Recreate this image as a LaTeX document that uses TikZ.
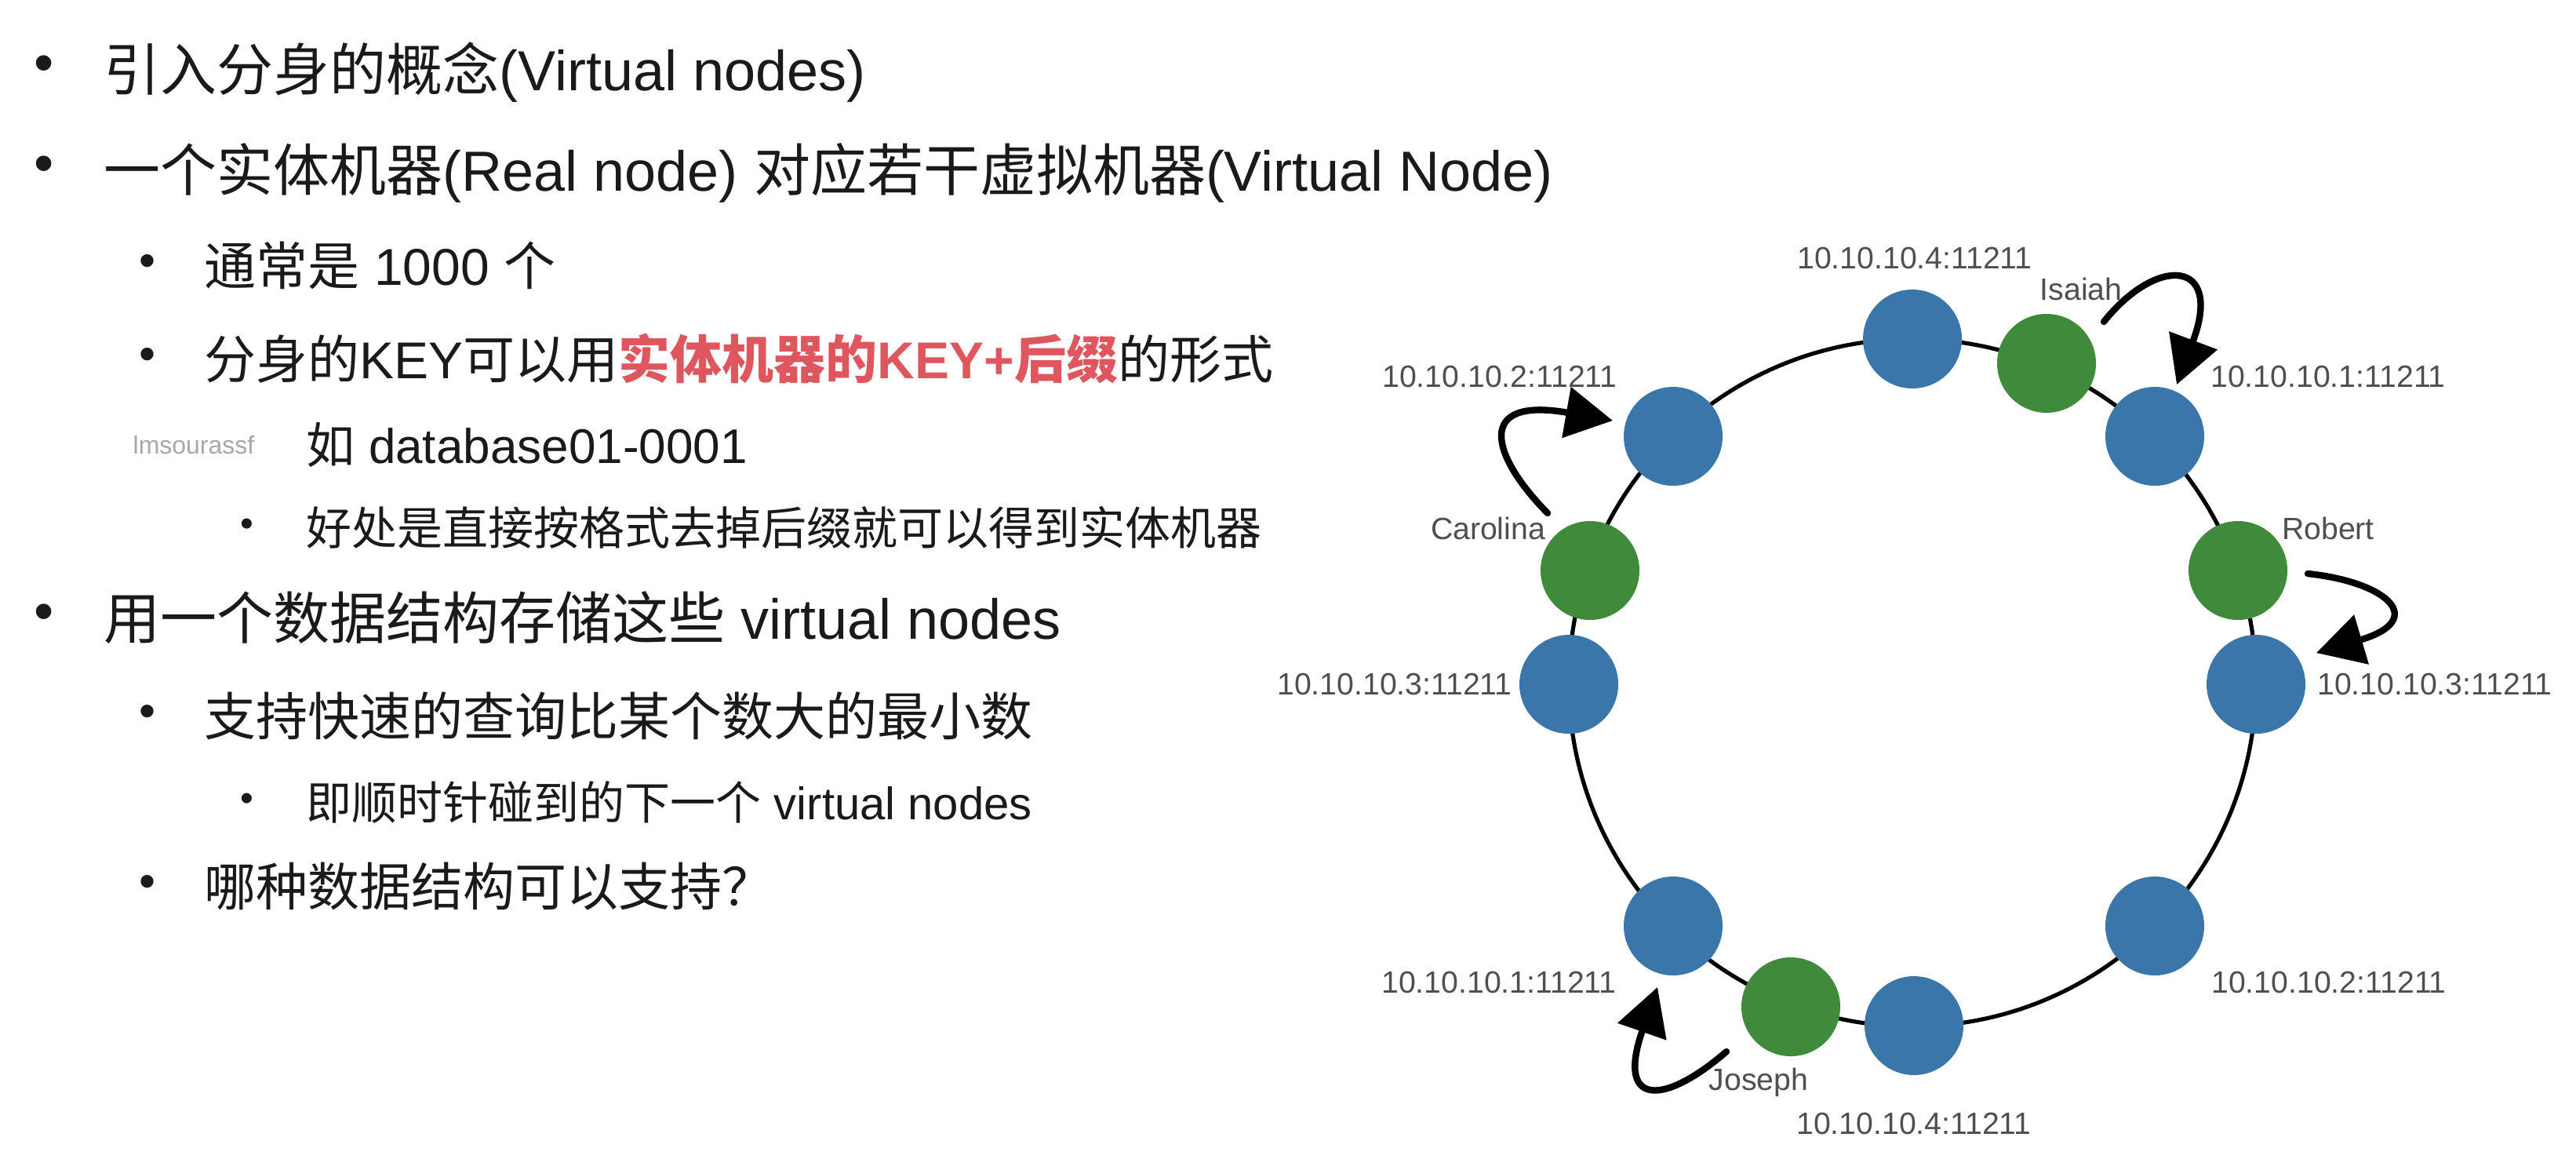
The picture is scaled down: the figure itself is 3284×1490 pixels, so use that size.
\documentclass[tikz,border=0pt]{standalone}
\usepackage{fontspec}
\setmainfont{Liberation Sans}
\newfontfamily\cjk{Noto Sans CJK SC}
\usetikzlibrary{arrows.meta}
\definecolor{nodeblue}{HTML}{3B76AB}
\definecolor{nodegreen}{HTML}{3F8B3B}
\definecolor{keyred}{HTML}{E0565E}
\definecolor{txt}{HTML}{1A1A1A}
\definecolor{lbl}{HTML}{4F4F4F}
\definecolor{wm}{HTML}{A8A8A8}
\newcommand\zh[1]{{\cjk #1}}
\begin{document}
\begin{tikzpicture}[x=0.25pt,y=-0.25pt,
  lvA/.style={anchor=west, inner sep=0pt, text=txt, font=\fontsize{18}{22}\selectfont, text height=15.8pt, text depth=2.2pt},
  lvB/.style={anchor=west, inner sep=0pt, text=txt, font=\fontsize{16.5}{20}\selectfont, text height=14.5pt, text depth=2pt},
  lvC/.style={anchor=west, inner sep=0pt, text=txt, font=\fontsize{14.5}{18}\selectfont, text height=12.8pt, text depth=1.8pt},
  lvD/.style={anchor=west, inner sep=0pt, text=txt, font=\fontsize{15.5}{19}\selectfont, text height=13.6pt, text depth=1.9pt},
  bulA/.style={inner sep=0pt, text=txt, font=\fontsize{18}{22}\selectfont},
  bulB/.style={inner sep=0pt, text=txt, font=\fontsize{15}{18}\selectfont},
  bulC/.style={inner sep=0pt, text=txt, font=\fontsize{12}{14}\selectfont},
  vblue/.style={circle, fill=nodeblue, minimum size=31.5pt, inner sep=0pt},
  vgreen/.style={circle, fill=nodegreen, minimum size=31.5pt, inner sep=0pt},
  lab/.style={inner sep=0pt, text=lbl, font=\fontsize{9.8}{12}\selectfont},
  ring/.style={line width=1.3pt, draw=black},
  hop/.style={line width=2.1pt, line cap=round, -{Triangle[length=15pt,width=16pt]}}
]
\fill[white] (0,0) rectangle (3284,1490);
\useasboundingbox (0,0) rectangle (3284,1490);

% ---------- bullet list ----------
\node[bulA] (b1) at (56,88) {•};
\node[lvA] (t1) at (132,88) {\zh{引入分身的概念}(Virtual nodes)};
\node[bulA] (b2) at (56,216) {•};
\node[lvA] (t2) at (132,216) {\zh{一个实体机器}(Real node) \zh{对应若干虚拟机器}(Virtual Node)};
\node[bulB] (b3) at (188,338) {•};
\node[lvB] (t3) at (260,338) {\zh{通常是} 1000 \zh{个}};
\node[bulB] (b4) at (188,457) {•};
\node[lvB] (t4) at (260,457) {\zh{分身的}KEY\zh{可以用}{\color{keyred}\bfseries\zh{实体机器的}KEY+\zh{后缀}}\zh{的形式}};
\node[inner sep=0pt, text=wm, font=\fontsize{8}{10}\selectfont] (wmk) at (247,567) {lmsourassf};
\node[lvD] (t5) at (390,567) {\zh{如} database01-0001};
\node[bulC] (b6) at (315,672) {•};
\node[lvC] (t6) at (390,672) {\zh{好处是直接按格式去掉后缀就可以得到实体机器}};
\node[bulA] (b7) at (56,787) {•};
\node[lvA] (t7) at (132,787) {\zh{用一个数据结构存储这些} virtual nodes};
\node[bulB] (b8) at (188,912) {•};
\node[lvB] (t8) at (260,912) {\zh{支持快速的查询比某个数大的最小数}};
\node[bulC] (b9) at (315,1022) {•};
\node[lvC] (t9) at (390,1022) {\zh{即顺时针碰到的下一个} virtual nodes};
\node[bulB] (b10) at (188,1129) {•};
\node[lvB] (t10) at (260,1129) {\zh{哪种数据结构可以支持？}};

% ---------- ring ----------
\coordinate (C) at (2438,870);
\draw[ring] (C) circle[radius=109.5pt];

\node[vblue]  (n4a) at (2438,432) {};
\node[vgreen] (isa) at (2609,463) {};
\node[vblue]  (n1a) at (2747,556) {};
\node[vgreen] (rob) at (2853,727) {};
\node[vblue]  (n3a) at (2876,872) {};
\node[vblue]  (n2b) at (2747,1180) {};
\node[vblue]  (n4b) at (2440,1307) {};
\node[vgreen] (jos) at (2283,1283) {};
\node[vblue]  (n1b) at (2133,1180) {};
\node[vblue]  (n3b) at (2000,872) {};
\node[vgreen] (car) at (2027,727) {};
\node[vblue]  (n2a) at (2133,556) {};

% ---------- labels ----------
\node[lab] (l4a) at (2441,329) {10.10.10.4:11211};
\node[lab] (lisa) at (2653,368) {Isaiah};
\node[lab] (l1a) at (2968,480) {10.10.10.1:11211};
\node[lab] (lrob) at (2968,673) {Robert};
\node[lab] (l3a) at (3104,872) {10.10.10.3:11211};
\node[lab] (l2b) at (2969,1252) {10.10.10.2:11211};
\node[lab] (l4b) at (2440,1432) {10.10.10.4:11211};
\node[lab] (ljos) at (2242,1379) {Joseph};
\node[lab] (l1b) at (1911,1252) {10.10.10.1:11211};
\node[lab] (l3b) at (1778,872) {10.10.10.3:11211};
\node[lab] (lcar) at (1897,673) {Carolina};
\node[lab] (l2a) at (1912,480) {10.10.10.2:11211};

% ---------- hop arrows ----------
\coordinate (isaS) at (2682,410);
\coordinate (isaE) at (2775,490);
\draw[hop] (isaS) .. controls (2750,325) and (2835,330) .. (isaE);

\coordinate (robS) at (2942,731);
\coordinate (robE) at (2953,832);
\draw[hop] (robS) .. controls (3045,742) and (3095,790) .. (robE);

\coordinate (carS) at (1973,654);
\coordinate (carE) at (2056,536);
\draw[hop] (carS) .. controls (1900,580) and (1880,505) .. (carE);

\coordinate (josS) at (2201,1340);
\coordinate (josE) at (2113,1258);
\draw[hop] (josS) .. controls (2120,1410) and (2060,1410) .. (josE);
\end{tikzpicture}
\end{document}
